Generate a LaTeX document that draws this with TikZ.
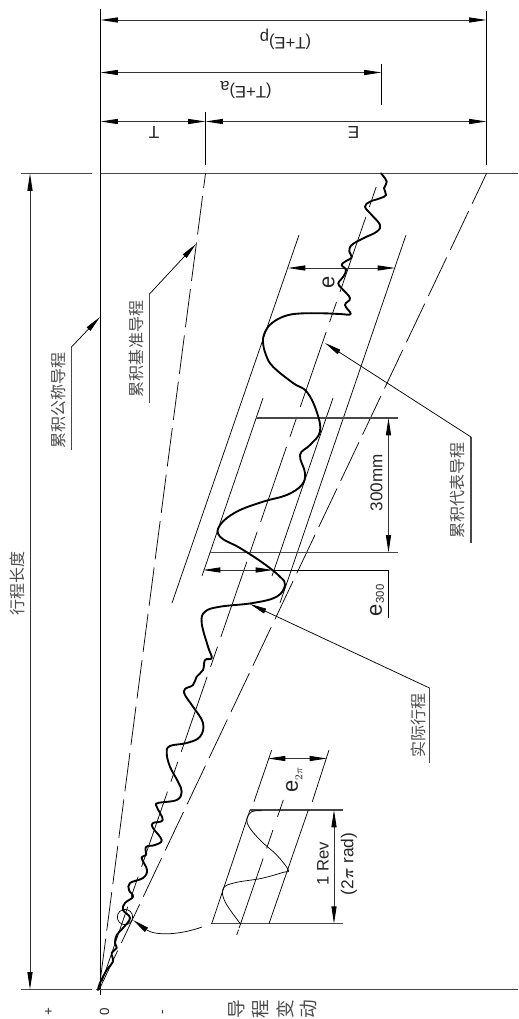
\documentclass[tikz,border=0pt]{standalone}
\usepackage{fontspec}
\setmainfont{Liberation Sans}
\newfontfamily\cjk{Noto Sans CJK SC}
\usetikzlibrary{arrows.meta}
\tikzset{
  ln/.style={draw=black,line width=0.55pt},
  axisline/.style={draw=black!72,line width=0.8pt},
  dim/.style={draw=black!80,line width=0.65pt,{Triangle[length=13pt,width=3.8pt,fill=black,color=black]}-{Triangle[length=13pt,width=3.8pt,fill=black,color=black]}},
  tip/.style={ln,-{Triangle[length=12.5pt,width=3.8pt]}},
  dashT/.style={ln,dash pattern=on 29pt off 6.1pt,dash phase=18pt},
  dashE/.style={ln,dash pattern=on 32pt off 6.36pt,dash phase=7pt},
  dashC/.style={ln,dash pattern=on 15.9pt off 7.9pt on 59.5pt off 7.9pt},
  cn/.style={font=\cjk\fontsize{12}{12}\selectfont,text=black!70,inner sep=0pt,rotate=90},
  cnb/.style={font=\cjk\fontsize{14}{14}\selectfont,text=black!70,inner sep=0pt,rotate=90},
  lb/.style={font=\fontsize{12.5}{12.5}\selectfont,text=black!85,inner sep=0pt},
  big/.style={lb,rotate=90,font=\fontsize{16.5}{16.5}\selectfont},
  tiny/.style={lb,rotate=90,font=\fontsize{8.5}{8.5}\selectfont},
  sgn/.style={lb,rotate=90,font=\fontsize{10}{10}\selectfont},
  wave/.style={draw=black,line width=1.4pt,line join=round,line cap=round},
}
\begin{document}
\begin{tikzpicture}[x=0.75pt,y=-0.75pt]
\useasboundingbox (0,0) rectangle (518,1019);
% named anchors
\coordinate (O) at (99,990);
\coordinate (T0) at (205.5,173.5);
\coordinate (A0) at (376.2,187);
\coordinate (E0) at (486.5,173.5);
% axes
\draw[draw=black,line width=0.7pt] (100.5,9) -- (100.5,995);
\draw[axisline] (21,173.5) -- (92,173.5);
\draw[axisline] (100.5,173.5) -- (518,173.5);
\draw[axisline] (21,989.5) -- (92,989.5);
\draw[axisline] (96,989.5) -- (518,989.5);
% extension lines
\draw[ln] (486.5,11) -- (486.5,165);
\draw[ln] (381.5,64) -- (381.5,105);
\draw[ln] (205.5,112) -- (205.5,165);
% top dimensions
\coordinate (L1) at (100.5,20); \coordinate (R1) at (486.5,20);
\coordinate (L2) at (100.5,72.5); \coordinate (R2) at (381.5,72.5);
\coordinate (L3) at (100.5,121.5); \coordinate (M3) at (205.5,121.5); \coordinate (R3) at (486.5,121.5);
\draw[dim] (L1) -- (R1);
\draw[dim] (L2) -- (R2);
\draw[dim] (L3) -- (M3);
\draw[dim] (M3) -- (R3);
\node[lb,rotate=180] (tep) at (285.5,39.5) {(T+E)\raisebox{-4pt}{p}};
\node[lb,rotate=180] (tea) at (246,90) {(T+E)\raisebox{-4pt}{a}};
\node[lb,rotate=180,font=\fontsize{13}{13}\selectfont] (tt) at (154,132) {T};
\node[lb,rotate=180,font=\fontsize{13}{13}\selectfont] (te) at (353.5,132) {E};
% travel length
\coordinate (TL1) at (30,173.5); \coordinate (TL2) at (30,989.5);
\draw[dim] (TL1) -- (TL2);
\node[cn] (xclabel) at (17,583) {行程长度};
% reference lines
\draw[dashT] (T0) -- (O);
\draw[dashE] (E0) -- (O);
\draw[dashC] (A0) -- (O);
% e band
\draw[ln] (299,235) -- (172,603);
\draw[ln] (406,235) -- (280,603);
\coordinate (eL) at (288,268); \coordinate (eR) at (395,268);
\draw[dim] (eL) -- (eR);
\node[big] (elabel) at (328.5,282) {e};
% 300 band
\draw[ln] (263,398) -- (202,576);
\draw[ln] (333,398) -- (272,576);
\draw[axisline] (256,418) -- (398,418);
\draw[axisline] (210,552.5) -- (398,552.5);
\coordinate (a300) at (388.5,418); \coordinate (b300) at (388.5,552.5);
\draw[dim] (a300) -- (b300);
\node[lb,rotate=90,font=\fontsize{12.8}{12.8}\selectfont] (l300) at (376.5,483) {300mm};
% e300
\coordinate (e3L) at (203,570); \coordinate (e3R) at (273,570); \coordinate (e3K) at (388.5,570); \coordinate (e3E) at (388.5,618);
\draw[dim] (e3L) -- (e3R);
\draw[ln] (e3R) -- (e3K) -- (e3E);
\node[big] (e3a) at (376,610.5) {e};
\node[tiny] (e3b) at (380,594) {300};
% main wave
\draw[wave] plot[smooth,tension=0.65] coordinates {
(381,173.3)(386.7,181.7)(384,188.3)(386,195)(380,198.3)(370,201.7)(365,206.7)(371.7,215)(380,225)(376.7,231.7)(363.3,238.3)(351.7,245)(349.3,251.7)(351.7,257.3)(345,261.7)(341.7,265)(346,270)(343.3,276.7)(338.3,283.3)(341.7,288.3)(350,298.3)(345,305)(350.7,314)(340,314)(323,313.3)(300,313.5)(285,316)(272,323)(265,332)(263,342)(266,355)(273,366.7)(293,383)(306.7,391.7)(316.7,411.7)(320,431.7)(310,445)(300,455)(305,473)(301.7,485)(286.7,495)(263,501.7)(236.7,511.7)(220,525)(220,536.7)(240,548)(263,563)(280,576.7)(285,585)(276.7,596.7)(253,603)(220,606.7)(205,611.7)(201.7,623)(208,646.7)(211.7,658)(205,660)(203,670)(196.7,676.7)(193,685)(185,689)(185,695)(193,706.7)(203,723)(200,736.7)(186.7,743)(170,746)(166.7,753)(170,766.7)(178,781.7)(181.7,791.7)(176.7,800)(158,803)(156.7,806.7)(162.7,820)(153,823)(153,828)(161.7,840)(155,845)(146,847)(146,855)(141.7,858)(147,870)(143,878)(130,883)(129,890)(133,896.7)(125,903)(123,910)(130,918)(123,928)(116.7,935)(115,943)(116.7,948)(111.7,953)(113,961.7)(106.7,970)(100,983)(98,990)};
% leaders
\coordinate (nomA) at (71.5,450); \coordinate (nomB) at (71.5,347); \coordinate (nomT) at (100,317);
\draw[axisline] (nomA) -- (nomB);
\draw[tip] (nomB) -- (nomT);
\node[cn] (nom) at (58,400) {累积公称导程};
\coordinate (basA) at (149.5,403); \coordinate (basB) at (149.5,294); \coordinate (basT) at (196,244);
\draw[axisline] (basA) -- (basB);
\draw[tip] (basB) -- (basT);
\node[cn] (bas) at (136,349) {累积基准导程};
\coordinate (repA) at (471,543); \coordinate (repB) at (471,437); \coordinate (repT) at (325,343);
\draw[axisline] (repA) -- (repB);
\draw[tip] (repB) -- (repT);
\node[cn] (rep) at (457,490) {累积代表导程};
\coordinate (actA) at (429.5,763); \coordinate (actB) at (429.5,688); \coordinate (actT) at (250,604);
\draw[axisline] (actA) -- (actB);
\draw[tip] (actB) -- (actT);
\node[cn] (act) at (418,725) {实际行程};
% inset
\draw[axisline] (250,810) -- (343,810);
\draw[axisline] (211,923.7) -- (343,923.7);
\draw[ln] (271.7,750) -- (254,801.7);
\draw[ln] (250,810) -- (211.7,923.7);
\draw[ln] (329,750) -- (312.3,801.7);
\draw[ln] (308.3,810) -- (269,923.7);
\draw[ln,dash pattern=on 13.3pt off 10.6pt on 14.5pt off 8pt on 55pt off 1.5pt] (283.3,800) -- (236.7,935);
\coordinate (rA) at (334,810); \coordinate (rB) at (334,923.7);
\draw[dim] (rA) -- (rB);
\coordinate (e2L) at (268,758.5); \coordinate (e2R) at (327,758.5);
\draw[dim] (e2L) -- (e2R);
\node[big] (e2a) at (292,786) {e};
\node[tiny] (e2b) at (299,774) {$2\pi$};
\node[lb,rotate=90,font=\fontsize{12.5}{12.5}\selectfont] (rev) at (323,864) {1 Rev};
\node[lb,rotate=90,font=\fontsize{13}{13}\selectfont] (rad) at (349,864) {(2{\boldmath$\pi$} rad)};
\draw[ln] plot[smooth,tension=0.6] coordinates {
(261.7,810.7)(251.7,811.7)(246.7,819)(250,828.3)(261.7,841.7)(276.7,855)(288.3,870)(283.3,872.3)(261.7,878.3)(235,882.7)(223.3,888.3)(225,901.7)(240,923.3)};
% magnifier
\node[draw=black,line width=0.55pt,circle,minimum size=11.5pt,inner sep=0pt] (mag) at (125,917) {};
\coordinate (cS) at (202,927); \coordinate (cT) at (133,920);
\draw[tip] (cS) .. controls (180,935) and (155,936) .. (cT);
% axis signs
\node[sgn] (plus) at (49,1012) {+};
\node[sgn] (zero) at (104.5,1012) {0};
\node[sgn] (minus) at (164,1012) {-};
\node[cnb] (c1) at (237,1009) {导};
\node[cnb] (c2) at (261,1009) {程};
\node[cnb] (c3) at (285,1009) {变};
\node[cnb] (c4) at (309,1009) {动};
\end{tikzpicture}
\end{document}
